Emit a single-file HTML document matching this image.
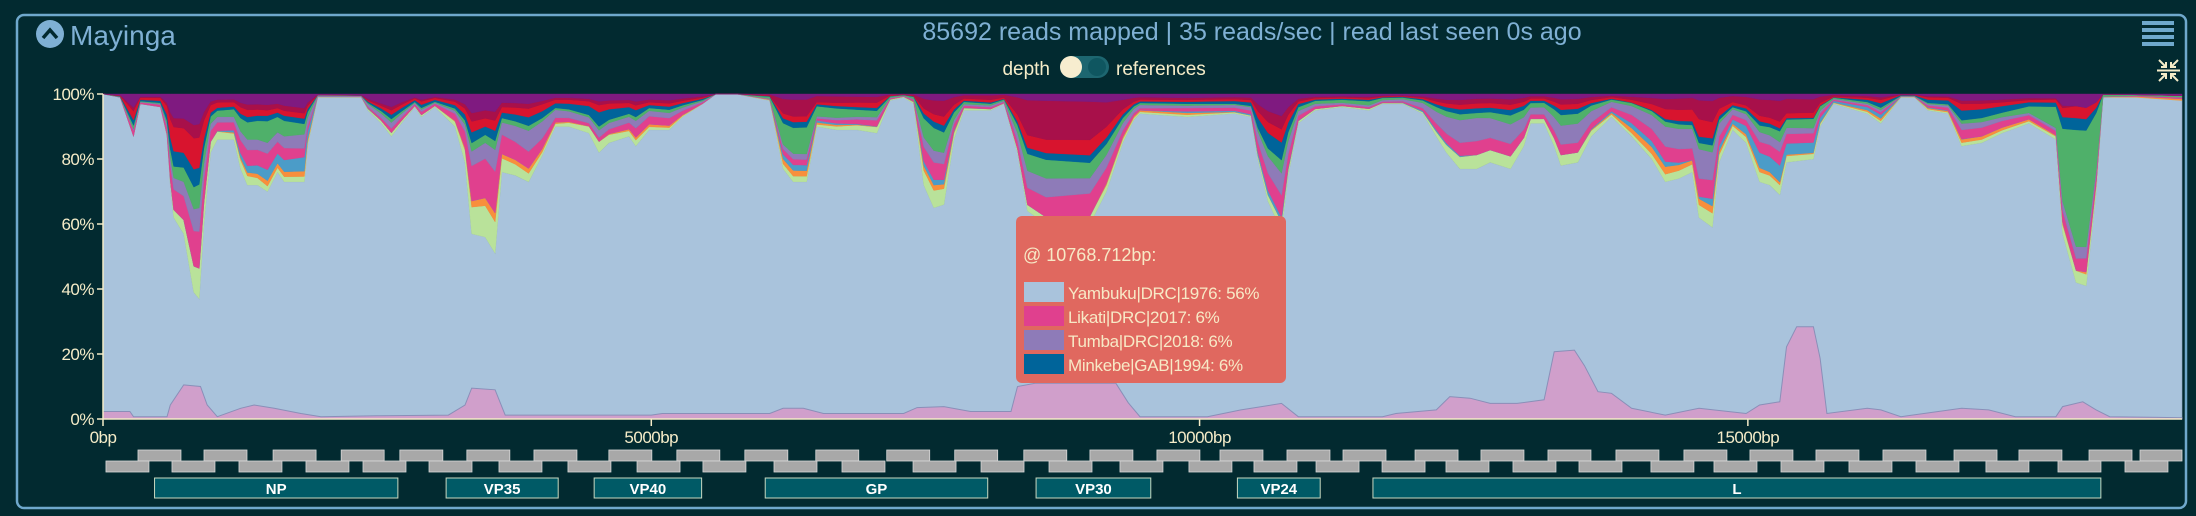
<!DOCTYPE html>
<html><head><meta charset="utf-8">
<style>
html,body{margin:0;padding:0;background:#022a30;width:2196px;height:516px;overflow:hidden;font-family:"Liberation Sans",sans-serif;}
svg{display:block}
</style></head>
<body>
<svg id="root" width="2196" height="516" viewBox="0 0 2196 516" xmlns="http://www.w3.org/2000/svg">
  <rect x="0" y="0" width="2196" height="516" fill="#022a30"/>
  <rect x="17" y="15" width="2169" height="493" rx="7" fill="none" stroke="#6fa8cc" stroke-width="2.5"/>
  <g>
    <circle cx="50" cy="34" r="14" fill="#7fb0d4"/>
    <path d="M43,38 L50,30 L57,38" fill="none" stroke="#022a30" stroke-width="3.5"/>
  </g>
  <text x="70" y="45" font-size="28" fill="#7fb0d4">Mayinga</text>
  <text x="1252" y="40" font-size="25" fill="#7fb0d4" text-anchor="middle">85692 reads mapped | 35 reads/sec | read last seen 0s ago</text>
  <text x="1050" y="75" font-size="19" fill="#f5ecc8" text-anchor="end">depth</text>
  <g>
    <rect x="1060" y="56" width="49" height="22" rx="11" fill="#1d6670"/>
    <circle cx="1071" cy="67" r="11" fill="#f7edcf"/>
    <circle cx="1097" cy="67" r="9" fill="#0f5660"/>
  </g>
  <text x="1116" y="75" font-size="19" fill="#f5ecc8">references</text>
  <g fill="#6fa8cc">
    <rect x="2142" y="21" width="32" height="4"/><rect x="2142" y="28" width="32" height="4"/>
    <rect x="2142" y="35" width="32" height="4"/><rect x="2142" y="42" width="32" height="4"/>
  </g>
  <g stroke="#f5ecc8" stroke-width="2" fill="none">
    <path d="M2159,60 L2166,67 M2166,62 L2166,67 L2161,67"/>
    <path d="M2178,60 L2171,67 M2171,62 L2171,67 L2176,67"/>
    <path d="M2159,81 L2166,74 M2166,79 L2166,74 L2161,74"/>
    <path d="M2178,81 L2171,74 M2171,79 L2171,74 L2176,74"/>
    <path d="M2157,70.5 L2180,70.5"/>
  </g>
  <g id="chart"></g>
  <g id="amplicons"></g>
  <g id="genes"></g>
  <g>
    <rect x="1016" y="216" width="270" height="167" rx="6" fill="#e0685f"/>
    <text x="1023" y="261" font-size="18" fill="#f7e9c6">@ 10768.712bp:</text>
    <rect x="1024" y="282" width="40" height="20" fill="#a9c3dc"/>
    <text x="1068" y="299" font-size="17" fill="#f7e9c6" letter-spacing="-0.3">Yambuku|DRC|1976: 56%</text>
    <rect x="1024" y="306" width="40" height="20" fill="#e0408e"/>
    <text x="1068" y="323" font-size="17" fill="#f7e9c6" letter-spacing="-0.3">Likati|DRC|2017: 6%</text>
    <rect x="1024" y="330" width="40" height="20" fill="#8e7bb8"/>
    <text x="1068" y="347" font-size="17" fill="#f7e9c6" letter-spacing="-0.3">Tumba|DRC|2018: 6%</text>
    <rect x="1024" y="354" width="40" height="20" fill="#00649a"/>
    <text x="1068" y="371" font-size="17" fill="#f7e9c6" letter-spacing="-0.3">Minkebe|GAB|1994: 6%</text>
  </g>
</svg>
<script>
// ---- data ----
const yambukuBp = [0,156,278,339,523,584,614,645,736,828,877,920,981,1042,1194,1255,1317,1408,1500,1591,1652,1836,1866,1958,2172,2355,2416,2538,2630,2721,2843,2904,3027,3210,3301,3362,3485,3576,3637,3759,3881,4004,4126,4248,4431,4523,4614,4797,4859,4981,5164,5286,5469,5591,5775,5927,6080,6202,6294,6416,6508,6690,6874,7057,7179,7301,7393,7485,7576,7668,7760,7851,8095,8217,8340,8431,8600,9000,9150,9300,9400,9457,9887,10317,10470,10532,10624,10747,10808,10900,11054,11300,11545,11668,11852,12036,12159,12251,12374,12528,12650,12835,12957,13019,13142,13234,13295,13449,13571,13756,13940,14124,14247,14370,14493,14554,14677,14738,14861,14984,15107,15199,15291,15352,15598,15659,15782,16089,16212,16396,16519,16642,16826,16949,17133,17318,17563,17809,17870,17993,18085,18177,18239,18546,18959];
const yambukuPct = [100,99,87,97,96,87,72,62,57,39,37,60,82,86,86,77,72,72,70,76,73,73,84,99,99,99,95,91,87,91,96,93,96,90,79,57,56,51,76,75,73,81,90,90,88,82,85,87,84,89,89,93,97,100,100,99,98,77,73,73,90,89,89,88,98,99,97,72,65,66,86,95,95,97,82,64,60,60,70,85,92,94,93,94,93,80,67,58,75,91,95,96,95,97,97,94,87,82,77,77,79,77,84,91,91,84,78,79,87,93,87,80,73,74,76,62,59,79,89,85,73,72,69,79,80,90,97,94,91,99,99,95,94,84,85,88,91,86,57,42,41,70,99,99,98];
// other reference shares of the non-Yambuku remainder, sampled every 500bp
const shareBp = [0,500,1000,1500,2000,2500,3000,3500,4000,4500,5000,5500,6000,6500,7000,7500,8000,8500,9000,9500,10000,10500,11000,11500,12000,12500,13000,13500,14000,14500,15000,15500,16000,16500,17000,17500,18000,18500,19000];
const shareLightGreen = [0,0,3,1,1,1,1,4,1,3,1,0,1,1,2,3,1,1,1,1,1,1,1,1,1,3,2,2,1,2,2,1,1,1,1,1,1,0,0];
const shareOrange     = [0,0,0,1,1,0,0,1,1,0,1,0,1,1,0,1,0,0,0,1,1,0,0,0,0,0,0,0,2,1,1,0,1,1,1,1,0,1,1];
const shareSteel      = [0,0,0,2,3,0,0,0,0,0,0,0,1,1,0,1,0,0,0,0,1,1,0,0,1,0,0,0,2,0,3,2,2,1,0,0,0,0,0];
const shareMagenta    = [1,2,3,3,1,1,2,5,3,1,3,1,1,1,2,3,1,3,3,1,2,3,2,1,2,3,2,2,3,3,2,2,1,1,3,2,1,1,1];
const shareLavender   = [0,1,2,2,3,2,1,2,5,2,2,1,1,1,1,2,1,3,2,2,1,3,2,1,4,5,3,4,3,5,2,1,1,1,2,1,1,0,0];
const shareGreen      = [1,1,2,4,1,1,1,1,1,1,1,1,4,5,2,4,1,3,2,1,1,1,2,3,2,1,2,2,1,1,1,2,1,1,1,2,10,1,1];
const shareNavy       = [1,2,1,1,1,1,2,1,2,4,1,1,1,1,1,1,1,1,1,1,1,3,1,1,1,1,1,1,0,1,1,0,1,3,3,2,1,0,0];
const shareRed        = [2,3,2,1,1,1,2,1,2,2,1,1,1,1,2,1,2,2,2,1,1,2,1,1,1,1,1,1,1,3,1,1,1,2,2,1,1,0,0];
const shareCrimson    = [1,1,1,1,1,1,1,1,1,1,1,1,3,3,2,2,3,6,5,1,1,2,1,1,1,1,1,1,1,3,3,3,1,1,1,1,0,0,0];
const sharePurple     = [5,3,2,2,3,4,3,2,2,2,2,2,1,1,1,1,1,1,1,2,2,3,2,2,2,1,1,1,1,1,1,1,1,2,2,2,1,1,1];
const overlayBp  = [0,245,278,584,614,736,889,950,1042,1255,1378,1561,1805,1988,2500,3150,3301,3362,3576,3668,5000,5100,6080,6202,6386,6570,7301,7424,7668,7912,8280,8340,8500,9237,9350,9457,10071,10378,10747,10900,11668,11790,12159,12282,12466,12650,12896,13142,13234,13418,13510,13633,13756,13940,14247,14554,14984,15107,15291,15352,15445,15598,15659,15721,16089,16212,16396,16949,17195,17440,17809,17870,18054,18177,18300,18959];
const overlayPct = [2.3,2.3,0.7,0.7,4.3,10.5,10,4.3,0.7,3.3,4.3,3.3,1.7,0.7,1,1.2,4.3,9.5,9,1.2,1.2,1.7,1.7,3.3,3.3,1.7,1.7,3.5,3.8,2.3,2.3,10,11,11,5,0.7,0.7,2.8,4.8,0.7,0.7,1.7,2.8,6.9,6.4,4.8,4.8,5.9,20.7,21.2,16.4,8.4,7.9,3.3,1.2,3.3,1.7,4.3,5.3,22.2,28.4,28.4,18.7,1.7,3.3,2.8,0.7,3.3,2.8,0.7,0.7,3.8,5.3,2.8,0.7,0.4];
const yTicks = [0,20,40,60,80,100];
const xTicks = [0,5000,10000,15000];
const ampliconUpperBp = [319,921,1551,2172,2707,3318,3930,4613,5233,5853,6500,7147,7767,8397,9000,9611,10186,10797,11308,11965,12566,13177,13797,14417,15019,15621,16232,16880,17472,18111,18576];
const ampliconLowerBp = [27,629,1240,1851,2371,2973,3611,4240,4870,5471,6119,6739,7387,8007,8627,9274,9903,10496,11062,11664,12247,12858,13460,14116,14691,15302,15922,16533,17171,17828,18439];
const geneNames = ["NP","VP35","VP40","GP","VP30","VP24","L"];
const geneStart = [470,3129,4479,6039,8509,10345,11581];
const geneEnd   = [2689,4151,5459,8068,9555,11100,18219];
const genomeLength = 18959;
const ampliconLen = 392;

// ---- layout ----
const NS="http://www.w3.org/2000/svg";
const X0=103,X1=2182,Y0=419,Y1=94;
const xs=bp=>X0+(bp/genomeLength)*(X1-X0);
const ys=p=>Y0-(p/100)*(Y0-Y1);
function mk(tag,attrs,parent){const e=document.createElementNS(NS,tag);for(const k in attrs)e.setAttribute(k,attrs[k]);parent.appendChild(e);return e;}
function interp(xsArr,vals,x){if(x<=xsArr[0])return vals[0];for(let i=1;i<xsArr.length;i++){if(x<=xsArr[i]){const t=(x-xsArr[i-1])/(xsArr[i]-xsArr[i-1]);return vals[i-1]+t*(vals[i]-vals[i-1]);}}return vals[vals.length-1];}
const chart=document.getElementById('chart');

const layerDefs=[
 ["light-green",shareLightGreen,"#b9e29a"],["orange",shareOrange,"#f88f3c"],["steel-blue",shareSteel,"#4b9cc8"],
 ["magenta",shareMagenta,"#e0408e"],["lavender",shareLavender,"#8e7bb8"],["green",shareGreen,"#4fb06a"],
 ["navy",shareNavy,"#00649a"],["red",shareRed,"#d8142e"],["crimson",shareCrimson,"#a8104a"],["purple",sharePurple,"#7f1a80"]];

let d=`M${xs(0)},${ys(0)}`;
yambukuBp.forEach((b,i)=>{d+=` L${xs(b).toFixed(1)},${ys(yambukuPct[i]).toFixed(1)}`;});
d+=` L${xs(genomeLength)},${ys(0)} Z`;
const base=mk('path',{d:d,fill:'#a9c3dc',stroke:'#8fa8c0','stroke-width':0.6},chart);



let lower=yambukuPct.slice();
const totals=yambukuBp.map(b=>layerDefs.reduce((s,l)=>s+interp(shareBp,l[1],b),0));
layerDefs.forEach((l,li)=>{
  const upper=yambukuBp.map((b,i)=>{const rem=100-yambukuPct[i];const t=totals[i]||1;return lower[i]+rem*interp(shareBp,l[1],b)/t;});
  let p='';
  yambukuBp.forEach((b,i)=>{p+=(i?' L':'M')+xs(b).toFixed(1)+','+ys(upper[i]).toFixed(1);});
  for(let i=yambukuBp.length-1;i>=0;i--)p+=' L'+xs(yambukuBp[i]).toFixed(1)+','+ys(lower[i]).toFixed(1);
  p+=' Z';
  const e=mk('path',{d:p,fill:l[2],stroke:l[2],'stroke-width':0.4},chart);
  
  
  lower=upper;
});

let od=`M${xs(0)},${ys(0)}`;
overlayBp.forEach((b,i)=>{od+=` L${xs(b).toFixed(1)},${ys(overlayPct[i]).toFixed(1)}`;});
od+=` L${xs(genomeLength)},${ys(0)} Z`;
const ov=mk('path',{d:od,fill:'#d09fcb',stroke:'#8a8fb8','stroke-width':1},chart);



const ax=mk('g',{stroke:'#f5ecc8','stroke-width':1.5,fill:'none'},chart);


mk('line',{x1:X0,y1:Y1,x2:X0,y2:Y0},ax);
mk('line',{x1:X0,y1:Y0,x2:X1,y2:Y0},ax);
yTicks.forEach(v=>{
  mk('line',{x1:X0-6,y1:ys(v),x2:X0,y2:ys(v)},ax);
  const t=mk('text',{x:X0-9,y:ys(v)+6,'font-size':17,fill:'#f5ecc8','text-anchor':'end','letter-spacing':'-0.5'},chart);
  t.textContent=v+'%';
  
  
});
xTicks.forEach(v=>{
  mk('line',{x1:xs(v),y1:Y0,x2:xs(v),y2:Y0+7},ax);
  const t=mk('text',{x:xs(v),y:443,'font-size':17,fill:'#f5ecc8','text-anchor':'middle','letter-spacing':'-0.5'},chart);
  t.textContent=v+'bp';
  
  
});

const amp=document.getElementById('amplicons');
function drawAmp(arr,y){arr.forEach(b=>{
  const x=xs(b);const w=Math.min(xs(b+ampliconLen),X1)-x;
  const r=mk('rect',{x:x,y:y,width:w,height:11,fill:'#a8a8a8',stroke:'#d8d8d8','stroke-width':0.8},amp);
  
  
});}
drawAmp(ampliconUpperBp,450);
drawAmp(ampliconLowerBp,461);

const gg=document.getElementById('genes');
geneNames.forEach((n,i)=>{
  const x=xs(geneStart[i]),w=xs(geneEnd[i])-x;
  const g=mk('g',{},gg);
  
  
  mk('rect',{x:x,y:478,width:w,height:20,fill:'#005a66',stroke:'#c8d8c0','stroke-width':1},g);
  const t=mk('text',{x:x+w/2,y:494,'font-size':15,'font-weight':'bold',fill:'#ffffff','text-anchor':'middle'},g);
  t.textContent=n;
});
</script>
</body></html>
